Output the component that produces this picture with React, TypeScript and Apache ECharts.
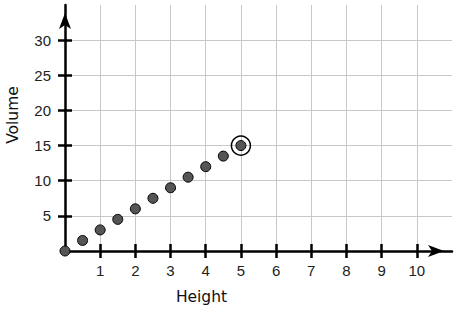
import React, { useEffect, useRef } from "react";
import * as echarts from "echarts";

const heights = [0, 0.5, 1, 1.5, 2, 2.5, 3, 3.5, 4, 4.5, 5];
const volumes = [0, 1.5, 3, 4.5, 6, 7.5, 9, 10.5, 12, 13.5, 15];
const highlighted = [[5, 15]];
const xTicks = [1, 2, 3, 4, 5, 6, 7, 8, 9, 10];
const yTicks = [5, 10, 15, 20, 25, 30];
const xName = "Height";
const yName = "Volume";

export default function App() {
  const ref = useRef<HTMLDivElement>(null);
  useEffect(() => {
    document.body.style.margin = "0";
    if (!ref.current) return;
    const chart = echarts.init(ref.current, undefined, { renderer: "svg" });
    const axisLine = (show: boolean) => ({
      show,
      onZero: false,
      symbol: ["none", "arrow"],
      symbolSize: [9, 16],
      symbolOffset: [0, -8],
      lineStyle: { color: "#000", width: 2.5 },
    });
    const tickStyle = { color: "#000", width: 2.5 };
    const labelFont = { fontSize: 15, fontFamily: "Liberation Sans", color: "#222" };
    chart.setOption({
      animation: false,
      grid: { left: 65, right: 7, top: 5, bottom: 61 },
      xAxis: [
        {
          type: "value",
          min: 0,
          max: 11,
          interval: 1,
          position: "bottom",
          axisLine: axisLine(true),
          axisTick: { show: true, inside: false, length: 7, customValues: xTicks, lineStyle: tickStyle },
          axisLabel: { ...labelFont, customValues: xTicks, margin: 12 },
          splitLine: { show: true, lineStyle: { color: "#c8c8c8", width: 1 } },
        },
        {
          type: "value",
          min: 0,
          max: 11,
          interval: 1,
          position: "bottom",
          axisLine: { show: false },
          axisTick: { show: true, inside: true, length: 7, customValues: xTicks, lineStyle: tickStyle },
          axisLabel: { show: false },
          splitLine: { show: false },
        },
      ],
      yAxis: [
        {
          type: "value",
          min: 0,
          max: 35,
          interval: 5,
          position: "left",
          axisLine: axisLine(true),
          axisTick: { show: true, inside: false, length: 7, customValues: yTicks, lineStyle: tickStyle },
          axisLabel: { ...labelFont, customValues: yTicks, margin: 14 },
          splitLine: { show: true, lineStyle: { color: "#c8c8c8", width: 1 } },
        },
        {
          type: "value",
          min: 0,
          max: 35,
          interval: 5,
          position: "left",
          axisLine: { show: false },
          axisTick: { show: true, inside: true, length: 7, customValues: yTicks, lineStyle: tickStyle },
          axisLabel: { show: false },
          splitLine: { show: false },
        },
      ],
      series: [
        {
          type: "scatter",
          xAxisIndex: 0,
          yAxisIndex: 0,
          symbol: "circle",
          symbolSize: 10,
          itemStyle: { color: "#555", borderColor: "#000", borderWidth: 1, opacity: 1 },
          data: heights.map((h, i) => [h, volumes[i]]),
          z: 3,
        },
        {
          type: "scatter",
          xAxisIndex: 0,
          yAxisIndex: 0,
          symbol: "circle",
          symbolSize: 19,
          itemStyle: { color: "rgba(0,0,0,0)", borderColor: "#000", borderWidth: 1.5, opacity: 1 },
          data: highlighted,
          z: 4,
        },
      ],
      graphic: [
        {
          type: "text",
          x: 201.5,
          y: 297,
          style: {
            text: xName,
            fontSize: 15.5,
            fontFamily: "DejaVu Sans",
            fill: "#111",
            align: "center",
            verticalAlign: "middle",
          },
        },
        {
          type: "text",
          x: 13,
          y: 115,
          rotation: Math.PI / 2,
          style: {
            text: yName,
            fontSize: 15.5,
            fontFamily: "DejaVu Sans",
            fill: "#111",
            align: "center",
            verticalAlign: "middle",
          },
        },
      ],
    });
    return () => chart.dispose();
  }, []);
  return <div ref={ref} style={{ width: 459, height: 312 }} />;
}
